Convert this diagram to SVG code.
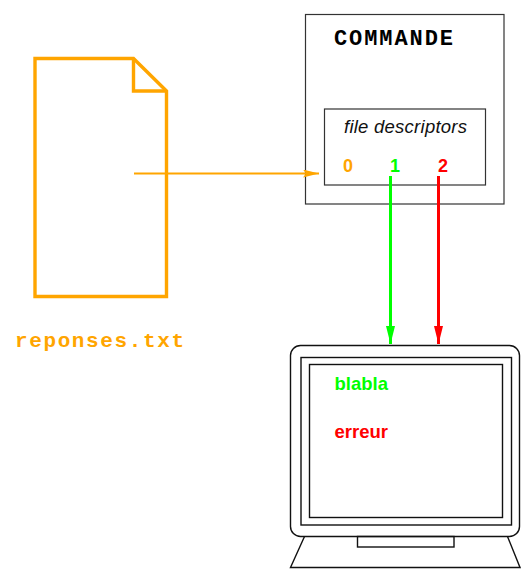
<svg xmlns="http://www.w3.org/2000/svg" width="521" height="570" viewBox="0 0 521 570">
  <style>
    .box { fill: #ffffff; stroke: #333333; stroke-width: 1.2; }
    .mon { fill: none; stroke: #111111; stroke-width: 1.4; }
    .mono { font-family: "Liberation Mono", "Courier New", monospace; font-weight: bold; }
    .sans { font-family: "Liberation Sans", Arial, sans-serif; }
    .fd { font-weight: bold; font-size: 18px; }
  </style>
  <defs>
    <marker id="head-orange" markerUnits="userSpaceOnUse" markerWidth="17" markerHeight="9" refX="16" refY="4" orient="auto">
      <path d="M0,0 L16,4 L0,8 L3,4 Z" fill="#FFA500"/>
    </marker>
    <marker id="head-green" markerUnits="userSpaceOnUse" markerWidth="19" markerHeight="10" refX="18" refY="4.5" orient="auto">
      <path d="M0,0 L18,4.5 L0,9 Z" fill="#00FF00"/>
    </marker>
    <marker id="head-red" markerUnits="userSpaceOnUse" markerWidth="19" markerHeight="10" refX="18" refY="4.5" orient="auto">
      <path d="M0,0 L18,4.5 L0,9 Z" fill="#FF0000"/>
    </marker>
  </defs>

  <!-- text file on disk -->
  <g id="file">
    <path d="M35,58.5 H133.5 L166.5,91 V296.5 H35 Z" fill="none" stroke="#FFA500" stroke-width="3.4" stroke-linejoin="miter"/>
    <path d="M133.5,58.5 V91 H166.5" fill="none" stroke="#FFA500" stroke-width="3.4"/>
    <text class="mono" x="15" y="347" font-size="21px" fill="#FFA500" textLength="169">reponses.txt</text>
  </g>

  <!-- process box -->
  <g id="commande">
    <rect class="box" x="305.5" y="14.5" width="198.5" height="189.5"/>
    <text class="mono" x="334" y="45" font-size="22px" fill="#000000" textLength="119">COMMANDE</text>
    <rect class="box" x="324.5" y="109" width="161" height="76"/>
    <text class="sans" x="344" y="132.5" font-style="italic" font-size="18.5px" fill="#111111" textLength="123">file descriptors</text>
    <text class="sans fd" x="343" y="171.5" fill="#FFA500">0</text>
    <text class="sans fd" x="390" y="171.5" fill="#00FF00">1</text>
    <text class="sans fd" x="438" y="171.5" fill="#FF0000">2</text>
  </g>

  <!-- terminal screen -->
  <g id="monitor">
    <rect class="mon" x="290.5" y="345.5" width="229" height="191" rx="10" ry="10"/>
    <rect class="mon" x="301" y="357.5" width="210.5" height="167.5"/>
    <rect class="mon" x="309.5" y="364.5" width="193" height="153"/>
    <rect class="mon" x="357.5" y="536.5" width="96.5" height="10.5"/>
    <path class="mon" d="M304.5,536.5 L290.5,567.5 H520 L507.5,536.5"/>
    <text class="sans" x="334.5" y="390" font-weight="bold" font-size="18.5px" fill="#00FF00">blabla</text>
    <text class="sans" x="334.5" y="437.5" font-weight="bold" font-size="18.5px" fill="#FF0000">erreur</text>
  </g>

  <!-- redirections -->
  <g id="connectors">
    <line x1="134" y1="173.5" x2="319" y2="173.5" stroke="#FFA500" stroke-width="2" marker-end="url(#head-orange)"/>
    <line x1="390.5" y1="176" x2="390.5" y2="344" stroke="#00FF00" stroke-width="3" marker-end="url(#head-green)"/>
    <line x1="438.5" y1="176" x2="438.5" y2="344" stroke="#FF0000" stroke-width="3" marker-end="url(#head-red)"/>
  </g>
</svg>
